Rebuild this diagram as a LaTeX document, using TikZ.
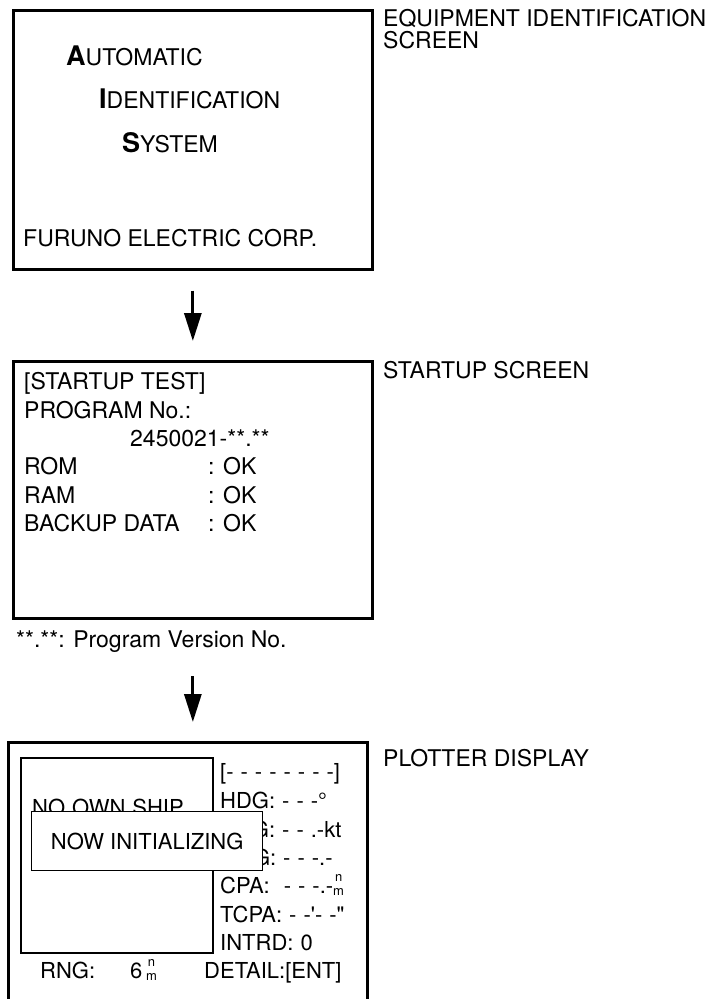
\documentclass[tikz,border=0pt]{standalone}
\usepackage{fontspec}
\setmainfont{TeX Gyre Heros}[Ligatures=TeXOff]
\usetikzlibrary{arrows.meta}
% stacked "n over m" unit mark (nautical miles)
\newcommand\unitnm{\raisebox{-2pt}{\fontsize{13}{14}\selectfont\begin{tabular}[b]{@{}c@{}}n\\m\end{tabular}}}
% plotter screen font, with slightly wider word spaces
\newcommand\plotfont{\fontsize{22}{22}\selectfont\spaceskip=7pt\relax}
\begin{document}
\begin{tikzpicture}[x=1pt,y=-1pt,
  txt/.style={anchor=base west,inner sep=0pt,font=\fontsize{23}{23}\selectfont},
  ptxt/.style={anchor=base west,inner sep=0pt,font=\plotfont},
  screen/.style={draw,line width=2.7pt,anchor=north west,minimum width=359pt,inner sep=0pt},
  flow/.style={line width=3pt,-{Triangle[width=17pt,length=28pt]}}]
\useasboundingbox (0,0) rectangle (719,999);

% ---- equipment identification screen ----
\node[screen,minimum height=259pt] (ident) at (12,9) {};
\node[txt] (l1) at (66,65) {{\fontsize{27}{27}\selectfont\bfseries A}UTOMATIC};
\node[txt] (l2) at (99,108) {{\fontsize{27}{27}\selectfont\bfseries I}DENTIFICATION};
\node[txt] (l3) at (122,152) {{\fontsize{27}{27}\selectfont\bfseries S}YSTEM};
\node[txt] (maker) at (23,246) {FURUNO ELECTRIC CORP.};
\node[txt] (identlbl) at (383,26) {EQUIPMENT IDENTIFICATION};
\node[txt] (identlbl2) at (383,48) {SCREEN};

% ---- startup screen ----
\node[screen,minimum height=257pt] (startup) at (12,360) {};
\node[txt] (s1) at (24,389) {[STARTUP TEST]};
\node[txt] (s2) at (24,418) {PROGRAM No.:};
\node[txt] (s3) at (130,446) {2450021-**.**};
\node[txt] (s4) at (24,474) {ROM};
\node[txt] (s5) at (24,503) {RAM};
\node[txt] (s6) at (24,531) {BACKUP DATA};
\node[txt] (k4) at (208,474) {: OK};
\node[txt] (k5) at (208,503) {: OK};
\node[txt] (k6) at (208,531) {: OK};
\node[txt] (startlbl) at (383,378) {STARTUP SCREEN};
\node[txt] (note) at (16,647) {**.**: Program Version No.};

% ---- plotter display ----
\node[screen,minimum height=262pt] (plot) at (7,741) {};
\node[draw,line width=2pt,anchor=north west,minimum width=192pt,minimum height=195pt,inner sep=0pt] (chart) at (20,757) {};
\node[ptxt] (noship) at (32,815) {NO OWN SHIP};
\node[ptxt] (p1) at (220,779) {[- - - - - - - -]};
\node[ptxt] (p2) at (220,808) {HDG: - - -°};
\node[ptxt] (p3) at (220,837) {SOG: - - .-kt};
\node[ptxt] (p4) at (220,865) {COG: - - -.-};
\node[ptxt] (p5) at (220,893) {CPA:\ \ - - -.-\unitnm};
\node[ptxt] (p6) at (220,922) {TCPA: - -'- -"};
\node[ptxt] (p7) at (220,950) {INTRD: 0};
\node[ptxt] (rng) at (40,978) {RNG:};
\node[ptxt] (rngval) at (130,978) {6\,\unitnm};
\node[ptxt] (detail) at (204,978) {DETAIL:[ENT]};
\node[draw,fill=white,line width=1.4pt,anchor=north west,minimum width=231pt,minimum height=59pt,inner sep=0pt,
      font=\fontsize{22}{22}\selectfont] (init) at (31,811) {NOW INITIALIZING};
\node[txt] (plotlbl) at (383,766) {PLOTTER DISPLAY};

% ---- flow arrows ----
\draw[flow] ([yshift=-20pt]ident.south) -- ([yshift=19pt]startup.north);
\draw[flow] ([yshift=-24pt]note.south -| startup.south) -- ([yshift=19pt]plot.north -| startup.south);
\end{tikzpicture}
\end{document}
